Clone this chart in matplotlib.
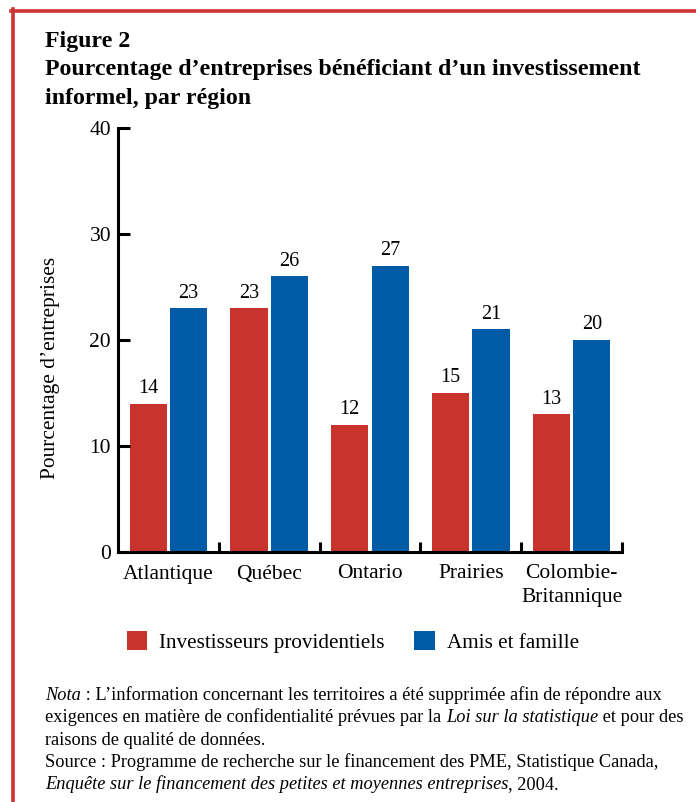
import matplotlib
matplotlib.use("Agg")
import matplotlib.pyplot as plt
from matplotlib.lines import Line2D
import numpy as np

plt.rcParams['font.family'] = ['Liberation Serif', 'DejaVu Serif']

regions = ["Atlantique", "Québec", "Ontario", "Prairies", "Colombie-\nBritannique"]
investisseurs = [14, 23, 12, 15, 13]
amis_famille = [23, 26, 27, 21, 20]
series_names = ["Investisseurs providentiels", "Amis et famille"]
yticks = [0, 10, 20, 30, 40]

RED = "#C8332E"
BLUE = "#005BA6"
BORDER = "#CC3333"

W, H = 696, 802
fig = plt.figure(figsize=(W / 100, H / 100), dpi=100)

def fx(px):
    return px / W

def fy(py):
    return 1 - py / H

# border (top and left)
fig.add_artist(Line2D([fx(11), fx(696)], [fy(10.5), fy(10.5)], color=BORDER, lw=2.6, transform=fig.transFigure))
fig.add_artist(Line2D([fx(12.5), fx(12.5)], [fy(9), fy(802)], color=BORDER, lw=2.6, transform=fig.transFigure))

# title
title_lines = ["Figure 2",
               "Pourcentage d\u2019entreprises bénéficiant d\u2019un investissement",
               "informel, par région"]
for i, t in enumerate(title_lines):
    fig.text(fx(45), fy(47 + 28.5 * i), t, fontsize=17.2, fontweight='bold', ha='left', va='baseline')

# axes
ax_l, ax_r, ax_b, ax_t = 118, 622, 552, 128
ax = fig.add_axes([fx(ax_l), fy(ax_b), (ax_r - ax_l) / W, (ax_b - ax_t) / H])
x = np.arange(len(regions))
w = 0.37
off = 0.2
b1 = ax.bar(x - off, investisseurs, w, color=RED, label=series_names[0])
b2 = ax.bar(x + off, amis_famille, w, color=BLUE, label=series_names[1])
ax.bar_label(b1, padding=4, fontsize=14.5)
ax.bar_label(b2, padding=4, fontsize=14.5)

ax.set_xlim(-0.5, len(regions) - 0.5)
ax.set_ylim(0, 40)
ax.set_yticks(yticks)
ax.set_yticklabels([str(v) for v in yticks], fontsize=15.5)
ax.set_xticks(x)
ax.set_xticklabels(regions, fontsize=15.5, linespacing=1.3)
ax.set_xticks(np.arange(len(regions)) + 0.5, minor=True)
ax.tick_params(axis='x', which='major', length=0, pad=9)
ax.tick_params(axis='x', which='minor', direction='in', length=7, width=2.2)
ax.tick_params(axis='y', which='major', direction='in', length=8.5, width=2.2, pad=5)
for s in ['top', 'right']:
    ax.spines[s].set_visible(False)
for s in ['left', 'bottom']:
    ax.spines[s].set_linewidth(2.2)
ax.spines['bottom'].set_capstyle('projecting')

fig.text(fx(51), fy(368), "Pourcentage d\u2019entreprises", rotation=90, ha='center', va='center', fontsize=15.4)

# legend
fig.legend(handles=[b1, b2], labels=series_names, loc='center', bbox_to_anchor=(fx(353), fy(642)),
           ncol=2, frameon=False, fontsize=15.2, handlelength=0.95, handleheight=0.95,
           handletextpad=0.6, columnspacing=1.4, borderpad=0, borderaxespad=0)

# notes with mixed italics
notes = [
    [("Nota", 'italic'), (" : L\u2019information concernant les territoires a été supprimée afin de répondre aux", 'normal')],
    [("exigences en matière de confidentialité prévues par la ", 'normal'), ("Loi sur la statistique", 'italic'), (" et pour des", 'normal')],
    [("raisons de qualité de données.", 'normal')],
    [("Source : Programme de recherche sur le financement des PME, Statistique Canada,", 'normal')],
    [("Enquête sur le financement des petites et moyennes entreprises", 'italic'), (", 2004.", 'normal')],
]
fig.canvas.draw()
renderer = fig.canvas.get_renderer()
for i, segs in enumerate(notes):
    xpx = 45
    ypx = 700 + 22.3 * i
    for txt, style in segs:
        t = fig.text(fx(xpx), fy(ypx), txt, fontsize=13.2, style=style, ha='left', va='baseline')
        bb = t.get_window_extent(renderer=renderer)
        xpx += bb.width

fig.savefig("out.png", dpi=100)
